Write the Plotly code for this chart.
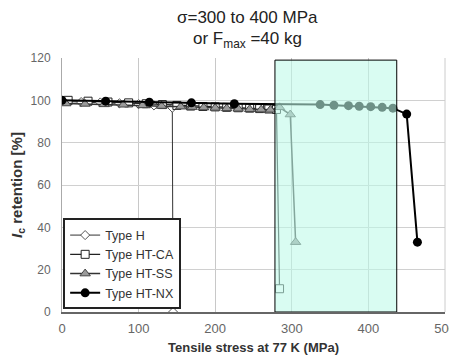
import plotly.graph_objects as go

# Data
h_x = [0, 25, 50, 75, 100, 120, 144, 145]
h_y = [99.5, 99.2, 99, 98.6, 98.2, 97.6, 96.5, 0]

ca_x = [8, 34, 60, 87, 110, 131, 150, 168, 184, 200, 215, 230, 245, 258, 270, 280, 284]
ca_y = [100, 99.6, 99.2, 98.8, 98.4, 98, 97.6, 97.3, 97.1, 96.9, 96.7, 96.5, 96.3, 96.1, 95.9, 95.7, 11]

ss_x = [5, 30, 55, 80, 105, 130, 155, 170, 185, 200, 215, 230, 245, 260, 272, 284, 298, 305]
ss_y = [98.5, 98.3, 98.1, 97.9, 97.6, 97.3, 97, 96.8, 96.6, 96.4, 96.2, 96, 95.8, 95.6, 95.5, 96.7, 93.3, 33]

nx_x = [0, 57, 114, 169, 225, 337, 355, 374, 388, 403, 418, 432, 450, 464]
nx_y = [100, 99.6, 99.1, 98.8, 98.4, 98, 97.7, 97.5, 97.2, 97, 96.7, 96.3, 93.5, 33]

band = [278, 437]
x_ticks = [0, 100, 200, 300, 400, 500]
y_ticks = [0, 20, 40, 60, 80, 100, 120]

FONT = "Liberation Sans, Arial, sans-serif"

fig = go.Figure()
fig.add_trace(go.Scatter(x=h_x, y=h_y, name="Type H", mode="lines+markers",
                         line=dict(color="#333333", width=1),
                         marker=dict(symbol="diamond", size=7, color="white",
                                     line=dict(color="#555555", width=1))))
fig.add_trace(go.Scatter(x=ca_x, y=ca_y, name="Type HT-CA", mode="lines+markers",
                         line=dict(color="#222222", width=1.2),
                         marker=dict(symbol="square", size=8, color="white",
                                     line=dict(color="#222222", width=1))))
fig.add_trace(go.Scatter(x=ss_x, y=ss_y, name="Type HT-SS", mode="lines+markers",
                         line=dict(color="#333333", width=1.5),
                         marker=dict(symbol="triangle-up", size=9, color="#9a9a9a",
                                     line=dict(color="#444444", width=1))))
fig.add_trace(go.Scatter(x=nx_x, y=nx_y, name="Type HT-NX", mode="lines+markers",
                         line=dict(color="black", width=2),
                         marker=dict(symbol="circle", size=9, color="black")))

fig.add_shape(type="rect", xref="x", yref="y", x0=band[0], x1=band[1], y0=0, y1=119,
              fillcolor="rgba(190,250,232,0.58)", line=dict(color="black", width=1),
              layer="above")
# right border
fig.add_shape(type="line", xref="paper", yref="paper", x0=1, x1=1, y0=0, y1=1,
              line=dict(color="#cccccc", width=1))

fig.add_annotation(text="σ=300 to 400 MPa", xref="paper", yref="paper",
                   x=0.485, y=1.0, yshift=41, xanchor="center", yanchor="middle",
                   showarrow=False, font=dict(size=17, color="#222222", family=FONT))
fig.add_annotation(text="or F<sub>max</sub> =40 kg", xref="paper", yref="paper",
                   x=0.485, y=1.0, yshift=18, xanchor="center", yanchor="middle",
                   showarrow=False, font=dict(size=17, color="#222222", family=FONT))

# page body has an 8px margin, so the figure is shifted by (8, 8)
fig.update_layout(
    width=449, height=348,
    margin=dict(l=54, r=12, t=50, b=44),
    paper_bgcolor="white", plot_bgcolor="white",
    font=dict(family=FONT, color="#555555", size=12),
    showlegend=True,
    legend=dict(x=0.003, y=0.01, xanchor="left", yanchor="bottom",
                bgcolor="white", bordercolor="#222222", borderwidth=2,
                font=dict(size=12.5, color="#333333", family=FONT),
                tracegroupgap=0, itemwidth=30),
)
fig.update_xaxes(range=[0, 500], tickvals=x_ticks, showgrid=True, gridcolor="#c8c8c8",
                 zeroline=False, showline=True, linecolor="#666666", linewidth=2, mirror=False,
                 ticks="", tickfont=dict(size=13, color="#666666"), automargin=False,
                 ticklabelstandoff=3,
                 title=dict(text="<b>Tensile stress at 77 K (MPa)</b>",
                            font=dict(size=13, color="#333333"), standoff=8))
fig.update_yaxes(range=[0, 120], tickvals=y_ticks, showgrid=True, gridcolor="#d0d0d0",
                 zeroline=False, showline=True, linecolor="#aaaaaa", linewidth=1,
                 ticks="", tickfont=dict(size=12, color="#666666"), ticklabelstandoff=8,
                 automargin=False,
                 title=dict(text="<b><i>I</i><sub>c</sub> retention [%]</b>",
                            font=dict(size=15, color="#333333"), standoff=10))

fig.write_html("out.html")
